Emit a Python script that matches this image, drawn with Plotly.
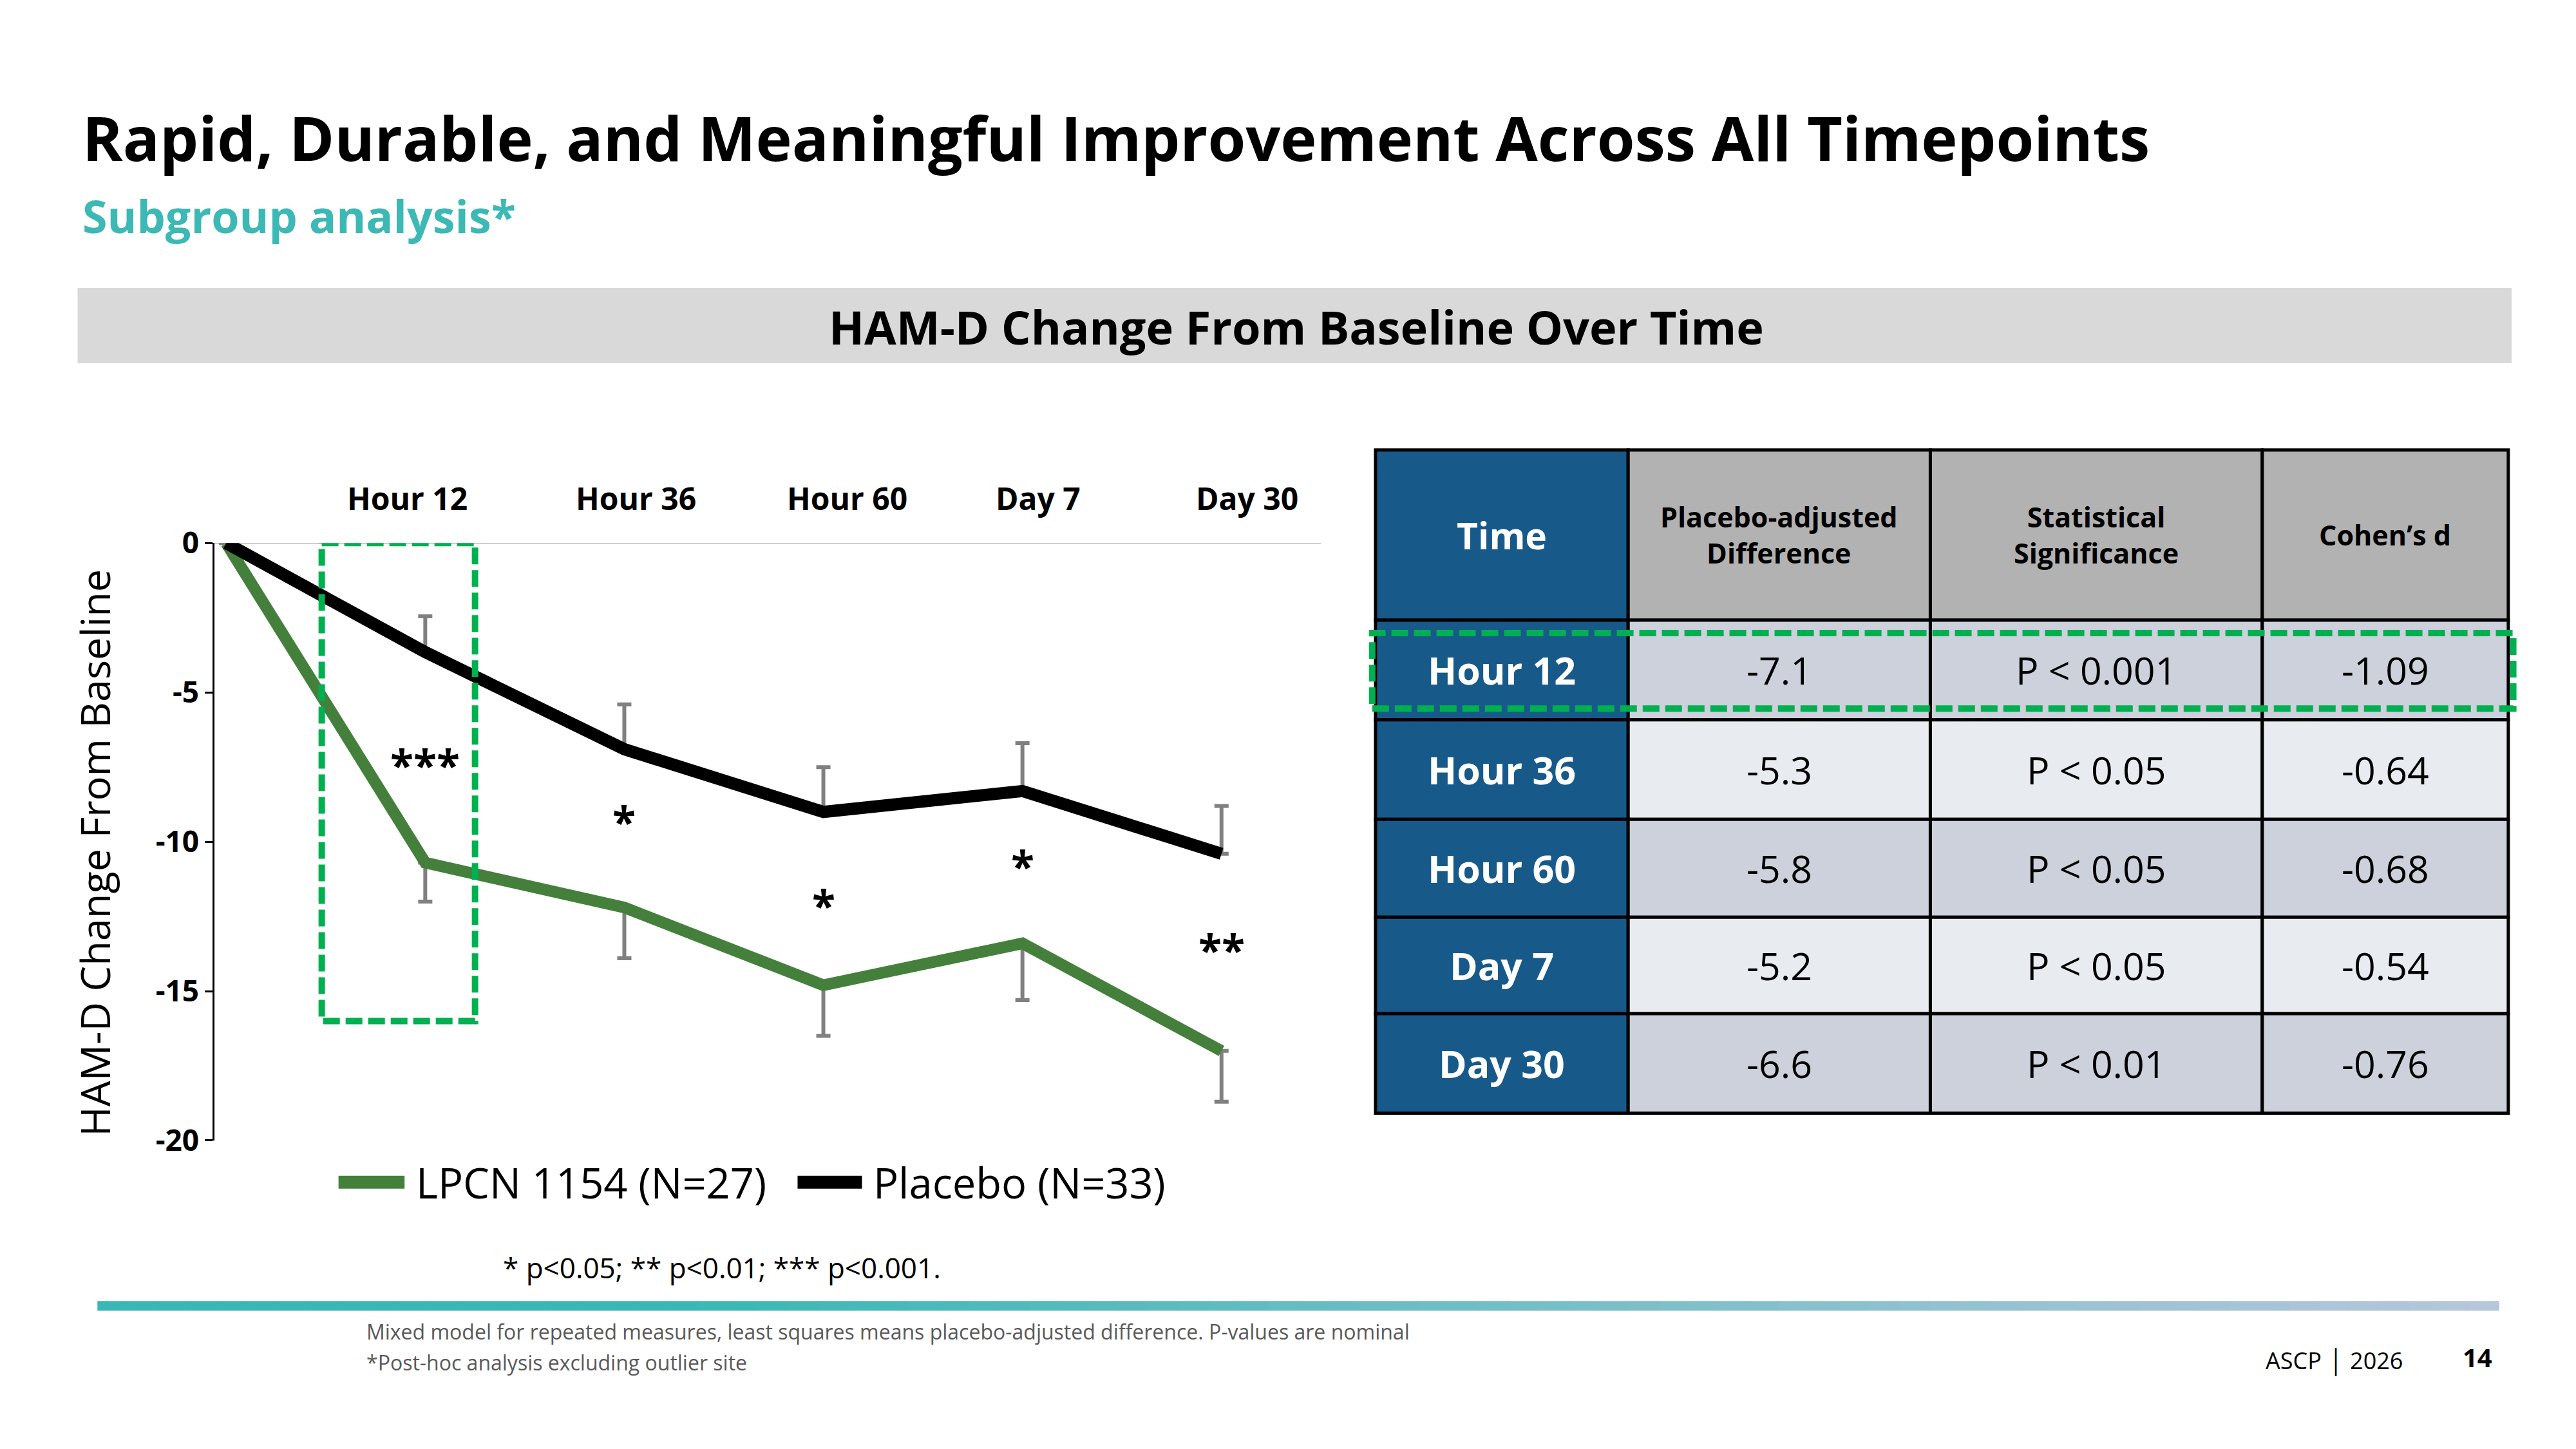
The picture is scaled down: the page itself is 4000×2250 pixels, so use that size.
import plotly.graph_objects as go

# ---- data ----
x_idx = [0, 1, 2, 3, 4, 5]
timepoints = ["Hour 12", "Hour 36", "Hour 60", "Day 7", "Day 30"]

lpcn = [0, -10.7, -12.2, -14.8, -13.4, -17.0]
lpcn_err = [0, 1.3, 1.7, 1.7, 1.9, 1.7]
placebo = [0, -3.65, -6.9, -9.0, -8.3, -10.4]
placebo_err = [0, 1.2, 1.5, 1.5, 1.6, 1.6]

stars = ["***", "*", "*", "*", "**"]
star_y = [-7.4, -9.3, -12.1, -10.8, -13.6]

y_ticks = [0, -5, -10, -15, -20]

tbl_time = ["Hour 12", "Hour 36", "Hour 60", "Day 7", "Day 30"]
tbl_diff = ["-7.1", "-5.3", "-5.8", "-5.2", "-6.6"]
tbl_sig = ["P < 0.001", "P < 0.05", "P < 0.05", "P < 0.05", "P < 0.01"]
tbl_d = ["-1.09", "-0.64", "-0.68", "-0.54", "-0.76"]
tbl_head = ["Time", "Placebo-adjusted<br>Difference", "Statistical<br>Significance", "Cohen\u2019s d"]

# ---- layout helpers (reference measured on a 1560 x 877.5 grid) ----
W, H = 4000, 2250
RW, RH = 1560.0, 877.5
FONT = "Open Sans"


def px(x):
    return x / RW


def py(y):
    return 1 - y / RH


GREEN = "#44803C"
DASH_GREEN = "#00B050"
DASH_STYLE = dict(color=DASH_GREEN, width=10, dash="26px,9px")
TEAL = "#3CB8B5"
BLUE = "#175A8A"

shapes = []
annotations = []


def note(x, y, text, size, color="black", xanchor="center", xref="paper", yref="paper", **kw):
    annotations.append(dict(x=x, y=y, xref=xref, yref=yref, text=text, showarrow=False,
                            xanchor=xanchor, yanchor="middle",
                            font=dict(family=FONT, size=size, color=color), **kw))


fig = go.Figure()

# lines with error bars
fig.add_trace(go.Scatter(
    x=x_idx, y=lpcn, mode="lines", name="LPCN 1154 (N=27)",
    line=dict(color=GREEN, width=18),
    error_y=dict(type="data", symmetric=False, array=[0] * len(lpcn_err), arrayminus=lpcn_err,
                 color="#808080", thickness=6, width=11),
    cliponaxis=False, showlegend=False,
))
fig.add_trace(go.Scatter(
    x=x_idx, y=placebo, mode="lines", name="Placebo (N=33)",
    line=dict(color="black", width=19),
    error_y=dict(type="data", symmetric=False, array=placebo_err, arrayminus=[0] * len(placebo_err),
                 color="#808080", thickness=6, width=11),
    cliponaxis=False, showlegend=False,
))

# zero line
shapes.append(dict(type="line", xref="paper", yref="y", x0=px(130), x1=px(800), y0=0, y1=0,
                   line=dict(color="#BFBFBF", width=3), layer="below"))

# dashed highlight around Hour 12
shapes.append(dict(type="rect", xref="x", yref="y", x0=0.48, x1=1.25, y0=0, y1=-16, line=DASH_STYLE))

# significance stars
for i, s in enumerate(stars):
    note(x_idx[i + 1], star_y[i], "<b>%s</b>" % s, 66, xref="x", yref="y")

# timepoint labels above the plot
label_x = [0.91, 2.06, 3.12, 4.08, 5.13]
for lx, t in zip(label_x, timepoints):
    note(lx, py(297), "<b>%s</b>" % t, 48, xref="x")

# y-axis title
note(px(57), py(518), "HAM-D Change From Baseline", 63, textangle=-90)

# manual legend
shapes.append(dict(type="line", xref="paper", yref="paper", x0=px(205), x1=px(245), y0=py(723), y1=py(723),
                   line=dict(color=GREEN, width=20)))
shapes.append(dict(type="line", xref="paper", yref="paper", x0=px(483), x1=px(522), y0=py(723), y1=py(723),
                   line=dict(color="black", width=20)))
note(px(251), py(723), "LPCN 1154 (N=27)", 65, xanchor="left")
note(px(528), py(723), "Placebo (N=33)", 65, xanchor="left")

# footnote under chart
note(px(304), py(776), "* p<0.05; ** p<0.01; *** p<0.001.", 44, xanchor="left")

# ---- slide header ----
note(px(49), py(72), "<b>Rapid, Durable, and Meaningful Improvement Across All Timepoints</b>", 95,
     xanchor="left")
note(px(49), py(121), "<b>Subgroup analysis*</b>", 70, color=TEAL, xanchor="left")
shapes.append(dict(type="rect", xref="paper", yref="paper", x0=px(47), x1=px(1521), y0=py(213), y1=py(166),
                   fillcolor="#D9D9D9", line=dict(width=0), layer="below"))
note(px(785), py(190), "<b>HAM-D Change From Baseline Over Time</b>", 72)

# ---- table ----
col_edges = [833, 986, 1169, 1370, 1519]
row_edges = [267, 373, 435, 497, 558, 618, 680]
body_fill = ["#CCD1DB", "#E8EBEF"]
for r in range(len(row_edges) - 1):
    for c in range(len(col_edges) - 1):
        if c == 0:
            fill = BLUE
        elif r == 0:
            fill = "#B2B2B2"
        else:
            fill = body_fill[(r - 1) % 2]
        shapes.append(dict(type="rect", xref="paper", yref="paper",
                           x0=px(col_edges[c]), x1=px(col_edges[c + 1]),
                           y0=py(row_edges[r + 1]), y1=py(row_edges[r]),
                           fillcolor=fill, line=dict(color="black", width=5), layer="below"))


def cell_center(c, r):
    return px((col_edges[c] + col_edges[c + 1]) / 2), py((row_edges[r] + row_edges[r + 1]) / 2)


for c, h in enumerate(tbl_head):
    cx, cy = cell_center(c, 0)
    note(cx, cy, "<b>%s</b>" % h, 57 if c == 0 else 43, color="white" if c == 0 else "black")

for r in range(len(tbl_time)):
    row_vals = [tbl_time[r], tbl_diff[r], tbl_sig[r], tbl_d[r]]
    for c, v in enumerate(row_vals):
        cx, cy = cell_center(c, r + 1)
        note(cx, cy, "<b>%s</b>" % v if c == 0 else v, 59, color="white" if c == 0 else "black")

# dashed highlight around Hour 12 row
shapes.append(dict(type="rect", xref="paper", yref="paper", x0=px(831), x1=px(1522), y0=py(428), y1=py(381),
                   line=DASH_STYLE))

# ---- footer gradient bar ----
grad_left = (0x3B, 0xB8, 0xB5)
grad_right = (0xB6, 0xC6, 0xDB)
n_seg = 80
bx0, bx1 = 59, 1513
for i in range(n_seg):
    t = i / (n_seg - 1)
    tt = max(0.0, (t - 0.25) / 0.75)
    col = tuple(int(round(a + (b - a) * tt)) for a, b in zip(grad_left, grad_right))
    xa = bx0 + (bx1 - bx0) * i / n_seg
    xb = bx0 + (bx1 - bx0) * (i + 1) / n_seg + 0.5
    shapes.append(dict(type="rect", xref="paper", yref="paper", x0=px(xa), x1=px(xb),
                       y0=py(803), y1=py(797), fillcolor="rgb(%d,%d,%d)" % col, line=dict(width=0)))

note(px(221), py(816),
     "Mixed model for repeated measures, least squares means placebo-adjusted difference. P-values are nominal",
     32, color="#595959", xanchor="left")
note(px(221), py(835), "*Post-hoc analysis excluding outlier site", 32, color="#595959", xanchor="left")
note(px(1456), py(834), "ASCP \u2502 2026", 36, xanchor="right")
note(px(1510), py(832), "<b>14</b>", 40, xanchor="right")

fig.update_layout(
    width=W, height=H,
    margin=dict(l=0, r=0, t=0, b=0),
    paper_bgcolor="white", plot_bgcolor="white",
    showlegend=False,
    xaxis=dict(domain=[px(130), px(800)], range=[-0.058, 5.5], visible=False, fixedrange=True),
    yaxis=dict(domain=[py(697), py(325)], range=[-20, 0], tickvals=y_ticks,
               ticktext=[str(v) for v in y_ticks],
               showline=True, linecolor="black", linewidth=3, ticks="outside", ticklen=12,
               tickwidth=3, tickcolor="black", showgrid=False, zeroline=False,
               tickfont=dict(family=FONT, size=46, color="black", weight="bold")),
    shapes=shapes,
    annotations=annotations,
)

# keep the page exactly the size of the figure (no default body margin / scrollbars)
fig.write_html("out.html", config=dict(displayModeBar=False),
               post_script="document.body.style.margin='0';document.body.style.overflow='hidden';")
